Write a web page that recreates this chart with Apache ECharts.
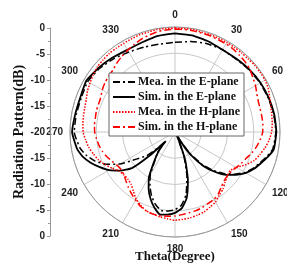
<!DOCTYPE html>
<html>
<head>
<meta charset="utf-8">
<script src="https://cdn.jsdelivr.net/npm/echarts@6/dist/echarts.min.js"></script>
<style>
  html, body { margin: 0; padding: 0; background: #fff; }
  #chart { width: 287px; height: 264px; }
</style>
</head>
<body>
<div id="chart"></div>
<script>
// angles in degrees, 0 at top, clockwise
// E-plane is sampled tighter around the two nulls
const anglesE = [
  0, 10, 20, 30, 40, 50, 60, 70, 80, 90, 100, 105, 110, 115, 120, 125, 130, 135, 140, 145, 148, 152, 156,
  160, 165, 170, 175, 180, 185, 190, 195, 200, 205, 210, 215, 220, 223, 225, 227, 230, 235, 240, 245,
  250, 255, 260, 270, 280, 290, 300, 310, 320, 330, 340, 350, 360
]

const meaE = [
  -2.9, -2.5, -2.1, -1.9, -1.9, -1.6, -1.3, -1.1, -0.9, -0.8, -1.1, -1.9, -2.8, -3.6, -4.6, -6.0, -7.6, -9.6, -11.9, -14.9, -17.3, -19.6, -18.5,
  -15.0, -11.2, -7.9, -6.0, -5.2, -4.9, -4.8, -5.7, -7.0, -8.7, -10.6, -13.3, -14.8, -16.0, -17.5, -15.5, -13.0, -11.0, -7.8, -5.5,
  -3.8, -2.6, -1.7, -0.8, -0.9, -1.0, -0.8, -1.2, -1.8, -2.4, -2.8, -3.0, -2.9
]

const simE = [
  -1.2, -1.3, -1.6, -1.9, -1.8, -1.5, -1.2, -1.0, -0.8, -0.7, -0.9, -1.7, -2.6, -3.4, -4.4, -5.8, -7.3, -9.3, -11.5, -14.5, -17.0, -19.5, -18.0,
  -14.3, -10.5, -7.2, -5.4, -4.6, -4.2, -4.0, -5.0, -6.4, -8.1, -10.1, -13.0, -15.0, -16.5, -17.5, -13.5, -9.3, -7.2, -5.5, -4.2,
  -2.9, -1.8, -1.1, -0.4, -0.7, -0.8, -0.5, -1.0, -1.5, -1.9, -1.8, -1.4, -1.2
]

const anglesH = [
  0, 5, 10, 15, 20, 25, 30, 35, 40, 45, 50, 55, 60, 65, 70, 75, 80, 85,
  90, 95, 100, 105, 110, 115, 120, 125, 130, 135, 140, 145, 150, 155, 160, 165, 170, 175,
  180, 185, 190, 195, 200, 205, 210, 215, 220, 225, 230, 235, 240, 245, 250, 255, 260, 265,
  270, 275, 280, 285, 290, 295, 300, 305, 310, 315, 320, 325, 330, 335, 340, 345, 350, 355, 360
]

const meaH = [
  -0.2, -0.2, -0.2, -0.3, -0.3, -0.3, -0.3, -0.3, -0.3, -0.3, -0.2, -0.2, -0.2, -0.4, -0.8, -1.1, -1.3, -1.4,
  -1.6, -2.0, -2.6, -3.3, -4.0, -5.2, -6.5, -7.2, -7.0, -6.5, -5.8, -5.3, -4.6, -4.2, -3.8, -3.6, -3.4, -3.3,
  -3.2, -3.4, -3.6, -3.8, -4.0, -4.6, -5.2, -6.2, -7.0, -7.3, -7.3, -7.0, -6.2, -5.3, -4.5, -3.9, -3.3, -2.9,
  -2.5, -2.4, -2.3, -2.2, -2.0, -1.6, -1.3, -1.0, -0.7, -0.6, -0.5, -0.5, -0.5, -0.4, -0.3, -0.3, -0.2, -0.2, -0.2
]

const simH = [
  -0.4, -0.4, -0.4, -0.5, -0.5, -0.6, -0.6, -0.7, -0.9, -1.1, -1.4, -1.9, -2.3, -2.8, -3.1, -3.2, -3.2, -3.2,
  -3.3, -3.7, -4.2, -4.8, -5.5, -6.0, -6.5, -6.9, -7.0, -6.8, -6.3, -5.6, -5.2, -5.0, -4.7, -4.5, -4.4, -4.2,
  -4.0, -3.9, -3.8, -3.8, -4.0, -4.4, -5.0, -5.6, -6.2, -6.8, -7.3, -7.5, -7.3, -6.8, -6.2, -5.7, -5.3, -5.0,
  -4.7, -4.6, -4.6, -4.5, -4.5, -4.4, -4.0, -3.7, -3.5, -3.3, -2.8, -2.4, -2.0, -1.6, -1.2, -0.9, -0.6, -0.5, -0.4
]

const angleLabels = ['0', '30', '60', '90', '120', '150', '180', '210', '240', '270', '300', '330']
const yTickLabels = ['0', '-5', '-10', '-15', '-20', '-15', '-10', '-5', '0']
const seriesNames = ['Mea. in the E-plane', 'Sim. in the E-plane', 'Mea. in the H-plane', 'Sim. in the H-plane']

const sansBold = { fontFamily: 'Liberation Sans', fontWeight: 'bold', fontSize: 10, color: '#222' }

// polar data items are [radius, angle]
function pairs(vals, angs) {
  return vals.map((v, i) => [v, angs[i]])
}

const chart = echarts.init(document.getElementById('chart'), null, { renderer: 'canvas' })
const option = {
  animation: false,
  backgroundColor: '#fff',
  polar: {
    center: [175, 132],
    radius: 105,
  },
  angleAxis: {
    type: 'value',
    min: 0,
    max: 360,
    interval: 30,
    startAngle: 90,
    clockwise: true,
    axisLine: { lineStyle: { color: '#999', width: 1 } },
    axisTick: { show: false },
    axisLabel: Object.assign({
      margin: 7,
      formatter: (v) => (v < 360 ? angleLabels[v / 30] : ''),
    }, sansBold),
    splitLine: { lineStyle: { color: '#c8c8c8', width: 1 } },
  },
  radiusAxis: {
    type: 'value',
    min: -20,
    max: 0,
    interval: 5,
    axisLine: { show: false },
    axisTick: { show: false },
    axisLabel: { show: false },
    splitLine: { lineStyle: { color: '#c8c8c8', width: 1 } },
  },
  grid: {
    left: 50,
    top: 28,
    width: 10,
    height: 208,
  },
  xAxis: {
    type: 'value',
    show: false,
  },
  yAxis: {
    type: 'value',
    min: 0,
    max: 40,
    interval: 5,
    axisLine: { show: true, lineStyle: { color: '#999' } },
    axisTick: { show: true, length: 3, lineStyle: { color: '#999' } },
    minorTick: { show: true, splitNumber: 2, length: 2, lineStyle: { color: '#999' } },
    splitLine: { show: false },
    axisLabel: Object.assign({
      margin: 5,
      formatter: (v) => yTickLabels[v / 5],
    }, sansBold),
    name: 'Radiation Pattern(dB)',
    nameLocation: 'middle',
    nameGap: 24,
    nameTextStyle: { fontFamily: 'Liberation Serif', fontWeight: 'bold', fontSize: 14, color: '#111' },
  },
  graphic: [
    {
      type: 'text',
      x: 175,
      y: 257,
      style: {
        text: 'Theta(Degree)',
        textAlign: 'center',
        textVerticalAlign: 'middle',
        font: 'bold 13px "Liberation Serif"',
        fill: '#111',
      },
    },
  ],
  legend: {
    orient: 'vertical',
    left: 109,
    top: 73,
    padding: [3, 4, 3, 3],
    itemGap: 3,
    itemWidth: 22,
    itemHeight: 12,
    backgroundColor: '#fff',
    borderColor: '#666',
    borderWidth: 1,
    borderRadius: 0,
    itemStyle: { opacity: 0 },
    textStyle: { fontFamily: 'Liberation Serif', fontWeight: 'bold', fontSize: 12, color: '#111', padding: [0, 0, 0, -2] },
    data: seriesNames,
  },
  series: [
    {
      name: seriesNames[0],
      type: 'line',
      coordinateSystem: 'polar',
      symbol: 'none',
      smooth: 0.15,
      lineStyle: { color: '#000', width: 1.5, type: [7, 3, 2, 3] },
      itemStyle: { color: '#000' },
      data: pairs(meaE, anglesE),
    },
    {
      name: seriesNames[1],
      type: 'line',
      coordinateSystem: 'polar',
      symbol: 'none',
      smooth: 0.15,
      lineStyle: { color: '#000', width: 1.8, type: 'solid' },
      itemStyle: { color: '#000' },
      data: pairs(simE, anglesE),
    },
    {
      name: seriesNames[2],
      type: 'line',
      coordinateSystem: 'polar',
      symbol: 'none',
      smooth: 0.2,
      lineStyle: { color: '#ff0000', width: 1.5, type: [1.5, 1.5] },
      itemStyle: { color: '#ff0000' },
      data: pairs(meaH, anglesH),
    },
    {
      name: seriesNames[3],
      type: 'line',
      coordinateSystem: 'polar',
      symbol: 'none',
      smooth: 0.2,
      lineStyle: { color: '#ff0000', width: 1.5, type: [7, 3, 2, 3] },
      itemStyle: { color: '#ff0000' },
      data: pairs(simH, anglesH),
    },
  ],
}
chart.setOption(option)
</script>
</body>
</html>
